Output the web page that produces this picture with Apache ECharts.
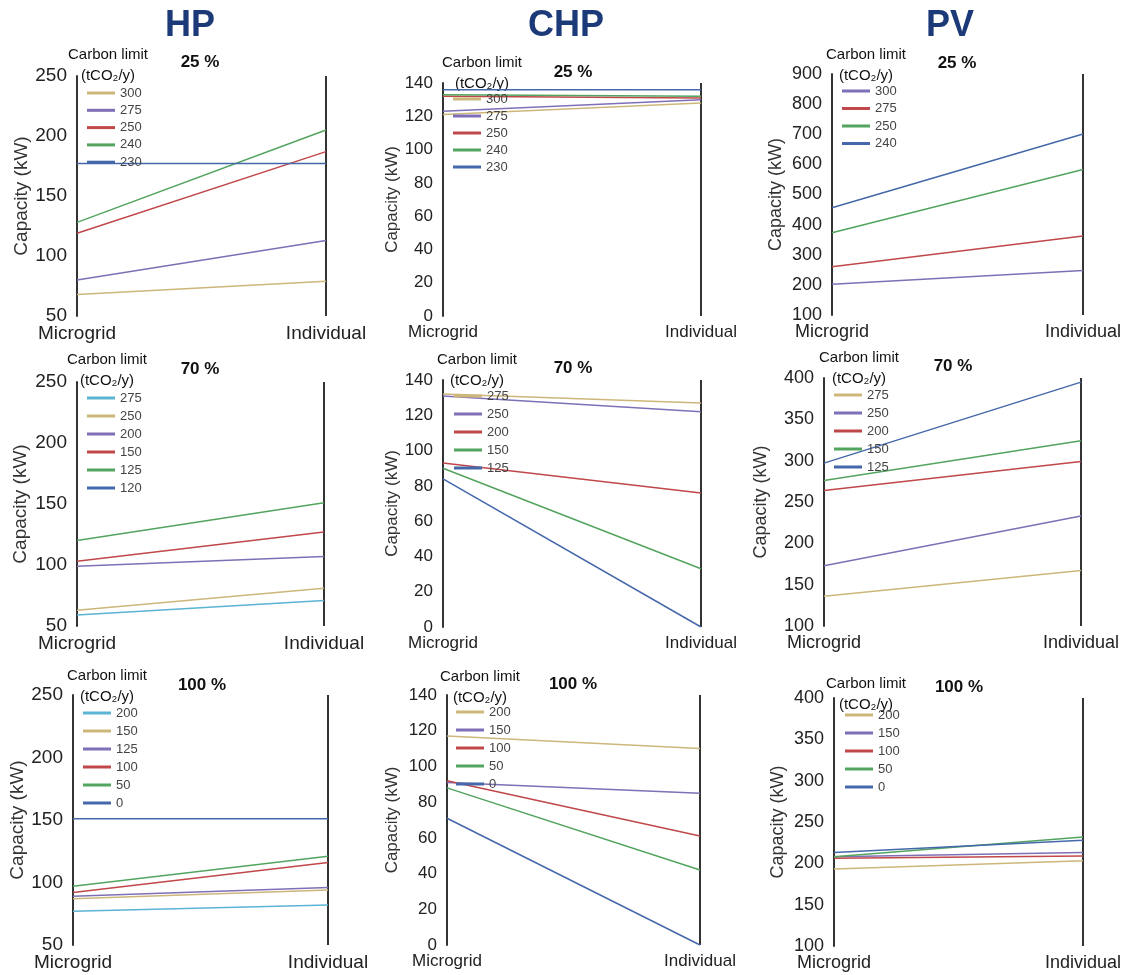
<!DOCTYPE html>
<html>
<head>
<meta charset="utf-8">
<title>Capacity vs carbon limit</title>
<script src="https://cdn.jsdelivr.net/npm/echarts@6/dist/echarts.min.js"></script>
<style>
  html, body { margin: 0; padding: 0; background: #fff; }
  #main { width: 1132px; height: 975px; }
</style>
</head>
<body>
<div id="main"></div>
<script>
// categories / headers
const categories = ['Microgrid', 'Individual'];
const techNames = ['HP', 'CHP', 'PV'];
const shareLabels = ['25 %', '70 %', '100 %'];

// y axis ranges per panel (HP25, CHP25, PV25, HP70, CHP70, PV70, HP100, CHP100, PV100)
const yMins  = [50, 0, 100, 50, 0, 100, 50, 0, 100];
const yMaxs  = [250, 140, 900, 250, 140, 400, 250, 140, 400];
const ySteps = [50, 20, 100, 50, 20, 50, 50, 20, 50];

// carbon limits (tCO2/y) and capacity [Microgrid, Individual] in kW
const hp25Limits = ['300', '275', '250', '240', '230'];
const hp25Cap = [[68, 79], [80, 113], [119, 187], [128, 205], [177, 177]];
const chp25Limits = ['300', '275', '250', '240', '230'];
const chp25Cap = [[121, 128], [123, 130], [132, 131], [133, 132], [136, 136]];
const pv25Limits = ['300', '275', '250', '240'];
const pv25Cap = [[202, 248], [260, 362], [373, 583], [456, 701]];

const hp70Limits = ['275', '250', '200', '150', '125', '120'];
const hp70Cap = [[59, 71], [63, 81], [99, 107], [103, 127], [120, 151], [null, null]];
const chp70Limits = ['275', '250', '200', '150', '125'];
const chp70Cap = [[132, 127], [131, 122], [93, 76], [90, 33], [84, 0]];
const pv70Limits = ['275', '250', '200', '150', '125'];
const pv70Cap = [[136, 167], [173, 233], [264, 299], [276, 324], [297, 395]];

const hp100Limits = ['200', '150', '125', '100', '50', '0'];
const hp100Cap = [[77, 82], [87, 94], [89, 96], [92, 116], [97, 121], [151, 151]];
const chp100Limits = ['200', '150', '100', '50', '0'];
const chp100Cap = [[117, 110], [91, 85], [92, 61], [88, 42], [71, 0]];
const pv100Limits = ['200', '150', '100', '50', '0'];
const pv100Cap = [[193, 203], [208, 213], [206, 209], [208, 232], [213, 228]];

// colours
const C = {
  cyan: '#5cb4d3', tan: '#cdb67a', purple: '#7f6fb6',
  red: '#c0474a', green: '#52a45e', blue: '#4468aa'
};
const five = [C.tan, C.purple, C.red, C.green, C.blue];
const six = [C.cyan, C.tan, C.purple, C.red, C.green, C.blue];

const panels = [
  { limits: hp25Limits, cap: hp25Cap, colors: five },
  { limits: chp25Limits, cap: chp25Cap, colors: five },
  { limits: pv25Limits, cap: pv25Cap, colors: [C.purple, C.red, C.green, C.blue] },
  { limits: hp70Limits, cap: hp70Cap, colors: six },
  { limits: chp70Limits, cap: chp70Cap, colors: five },
  { limits: pv70Limits, cap: pv70Cap, colors: five },
  { limits: hp100Limits, cap: hp100Cap, colors: six },
  { limits: chp100Limits, cap: chp100Cap, colors: five },
  { limits: pv100Limits, cap: pv100Cap, colors: five }
];

// axis font size per column (HP, CHP, PV)
const colFont = [19, 17, 18];

// layout in px: plot box, name gap, legend, caption and title anchors
const layout = [
  { l: 77,  r: 326,  t: 76,  b: 316, ng: 46, lx: 87,  ly: 93,  st: 17.3, cx: 108, cy: 55,  tx: 200, ty: 62 },
  { l: 443, r: 701,  t: 83,  b: 316, ng: 42, lx: 453, ly: 99,  st: 17,   cx: 482, cy: 63,  tx: 573, ty: 72 },
  { l: 832, r: 1083, t: 74,  b: 315, ng: 47, lx: 842, ly: 91,  st: 17.5, cx: 866, cy: 55,  tx: 957, ty: 63 },
  { l: 77,  r: 324,  t: 382, b: 626, ng: 47, lx: 87,  ly: 398, st: 18,   cx: 107, cy: 360, tx: 200, ty: 369 },
  { l: 443, r: 701,  t: 380, b: 627, ng: 42, lx: 454, ly: 396, st: 18,   cx: 477, cy: 360, tx: 573, ty: 368 },
  { l: 824, r: 1081, t: 378, b: 626, ng: 54, lx: 834, ly: 395, st: 18,   cx: 859, cy: 358, tx: 953, ty: 366 },
  { l: 73,  r: 328,  t: 695, b: 945, ng: 46, lx: 83,  ly: 713, st: 18,   cx: 107, cy: 676, tx: 202, ty: 685 },
  { l: 447, r: 700,  t: 695, b: 945, ng: 46, lx: 456, ly: 712, st: 18,   cx: 480, cy: 677, tx: 573, ty: 684 },
  { l: 834, r: 1083, t: 698, b: 946, ng: 47, lx: 845, ly: 715, st: 18,   cx: 866, cy: 684, tx: 959, ty: 687 }
];

const FONT = '"Liberation Sans", Arial, sans-serif';

const grid = [], xAxis = [], yAxis = [], series = [], legend = [], graphic = [];

panels.forEach((p, i) => {
  const L = layout[i];
  const fs = colFont[i % 3];
  const tag = techNames[i % 3] + shareLabels[Math.floor(i / 3)];
  grid.push({ left: L.l, top: L.t, width: L.r - L.l, height: L.b - L.t });
  xAxis.push({
    type: 'category', gridIndex: i, data: categories, boundaryGap: false,
    axisLine: { show: false }, axisTick: { show: false },
    axisLabel: { interval: 0, fontSize: fs, color: '#222', margin: 8, fontFamily: FONT },
    splitLine: { show: true, lineStyle: { color: '#333', width: 2 } }
  });
  yAxis.push({
    type: 'value', gridIndex: i, min: yMins[i], max: yMaxs[i], interval: ySteps[i],
    name: 'Capacity (kW)', nameLocation: 'middle', nameGap: L.ng,
    nameTextStyle: { fontSize: fs, color: '#333', fontFamily: FONT },
    axisLine: { show: true, lineStyle: { color: '#333', width: 2 } },
    axisTick: { show: false }, splitLine: { show: false },
    axisLabel: { fontSize: fs, color: '#222', margin: 10, fontFamily: FONT }
  });
  const names = [];
  p.limits.forEach((lim, k) => {
    const name = tag + '|' + lim;
    names.push(name);
    series.push({
      name, type: 'line', xAxisIndex: i, yAxisIndex: i,
      data: p.cap[k], symbol: 'none', silent: true,
      itemStyle: { color: p.colors[k] },
      lineStyle: { color: p.colors[k], width: 1.5 }
    });
  });
  legend.push({
    data: names, orient: 'vertical', left: L.lx, top: L.ly - 7, padding: 0,
    icon: 'rect', itemWidth: 28, itemHeight: 3, itemGap: L.st - 14,
    selectedMode: false,
    formatter: n => n.split('|')[1],
    textStyle: { fontSize: 13, color: '#444', lineHeight: 14, fontFamily: FONT }
  });
  graphic.push(
    { type: 'text', x: L.cx, y: L.cy, style: { text: 'Carbon limit', font: '15px ' + FONT, fill: '#111', align: 'center', verticalAlign: 'middle', textAlign: 'center', textVerticalAlign: 'middle' } },
    { type: 'text', x: L.cx, y: L.cy + 21, style: { text: '(tCO\u2082/y)', font: '15px ' + FONT, fill: '#111', align: 'center', verticalAlign: 'middle', textAlign: 'center', textVerticalAlign: 'middle' } },
    { type: 'text', x: L.tx, y: L.ty, style: { text: shareLabels[Math.floor(i / 3)], font: 'bold 17px ' + FONT, fill: '#111', align: 'center', verticalAlign: 'middle', textAlign: 'center', textVerticalAlign: 'middle' } }
  );
});

// column headers
[190, 566, 950].forEach((x, j) => {
  graphic.push({ type: 'text', x: x, y: 26, style: { text: techNames[j], font: 'bold 36px ' + FONT, fill: '#1d3a78', align: 'center', verticalAlign: 'middle', textAlign: 'center', textVerticalAlign: 'middle' } });
});

const chart = echarts.init(document.getElementById('main'));
chart.setOption({
  animation: false,
  backgroundColor: '#fff',
  grid, xAxis, yAxis, series, legend, graphic
});
</script>
</body>
</html>
